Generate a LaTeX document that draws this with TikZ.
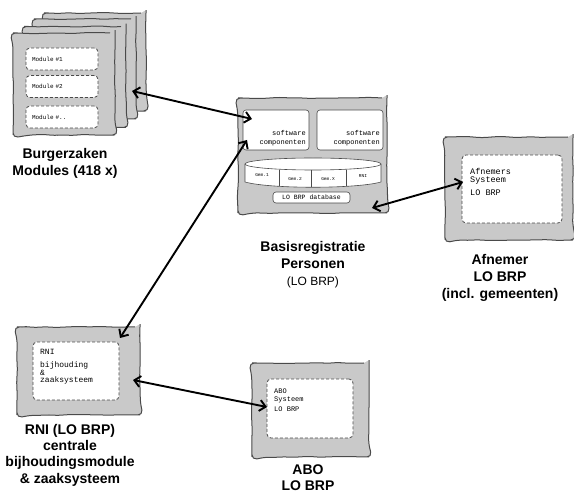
\documentclass[tikz,border=0pt]{standalone}
\usepackage{fontspec}
\usepackage{tikz}
\usetikzlibrary{decorations.pathmorphing}
\usetikzlibrary{arrows.meta}
\usepackage{xcolor}
\newfontfamily\labelfont{Liberation Sans}
\newfontfamily\codefont{Liberation Mono}
\definecolor{boxgray}{HTML}{C9C9C9}
\definecolor{edgegray}{HTML}{4A4A4A}

\tikzset{
  sketchbox/.style={draw=edgegray, fill=boxgray, line width=1pt, rounded corners=5pt,
    decorate, decoration={random steps, segment length=9pt, amplitude=0.6pt}},
  dashbox/.style={draw=edgegray, dash pattern=on 3pt off 2pt, fill=white, line width=0.8pt, rounded corners=4pt},
  swbox/.style={draw=edgegray, fill=white, line width=0.6pt, rounded corners=3pt},
  modbox/.style={dashbox, text width=60pt, minimum height=22pt, inner xsep=6pt, align=left,
    font=\codefont\fontsize{6}{7}\selectfont},
  code/.style={font=\codefont\fontsize{7.5}{8}\selectfont, align=left, inner sep=0pt},
  tinycode/.style={font=\codefont\fontsize{4.5}{5}\selectfont, inner sep=0pt},
  caption/.style={font=\labelfont\bfseries\fontsize{14}{17}\selectfont, align=center},
  link/.style={{Straight Barb[length=6pt,width=11pt]}-{Straight Barb[length=6pt,width=11pt]}, line width=1.9pt}
}

\begin{document}
\begin{tikzpicture}[x=1pt,y=-1pt]
\useasboundingbox (0,0) rectangle (574,494);
\pgfmathsetseed{12}

% Burgerzaken modules
\node[sketchbox, minimum width=102pt, minimum height=98pt] (bz4) at (95,62) {};
\node[sketchbox, minimum width=102pt, minimum height=100pt] (bz3) at (85,69) {};
\node[sketchbox, minimum width=102pt, minimum height=101pt] (bz2) at (75,77) {};
\node[sketchbox, minimum width=102pt, minimum height=102pt] (bz1) at (64,84) {};
\node[modbox] (mod1) at (62,59) {Module \#1};
\node[modbox] (mod2) at (62,86.5) {Module \#2};
\node[modbox] (mod3) at (62,117) {Module \#..};
\node[caption] (bzlabel) at (65,163) {Burgerzaken\\Modules (418 x)};

% BRP
\node[sketchbox, minimum width=149pt, minimum height=115pt] (brp) at (312.5,155.5) {};
\node[swbox, minimum width=66pt, minimum height=40pt] (swleft) at (276,130) {};
\node[swbox, minimum width=66pt, minimum height=40pt] (swright) at (350,130) {};
\node[code, anchor=south east, align=right, font=\codefont\fontsize{7}{9}\selectfont] (swlefttext) at (306,146) {software\\componenten};
\node[code, anchor=south east, align=right, font=\codefont\fontsize{7}{9}\selectfont] (swrighttext) at (380,146) {software\\componenten};
\draw[edgegray, fill=white, line width=0.6pt] (245,164) -- (245,182) .. controls (270,189) and (356,189) .. (381,182) -- (381,164);
\draw[edgegray, fill=white, line width=0.6pt] (313,164) ellipse [x radius=68pt, y radius=6pt];
\draw[edgegray, line width=0.6pt] (279,170) -- (279,186);
\draw[edgegray, line width=0.6pt] (311,170) -- (311,187);
\draw[edgegray, line width=0.6pt] (346,170) -- (346,186);
\node[tinycode] (gem1) at (262,175) {Gem.1};
\node[tinycode] (gem2) at (295,179) {Gem.2};
\node[tinycode] (gemx) at (328,179) {Gem.X};
\node[tinycode] (rnicell) at (363,176) {RNI};
\node[swbox, minimum width=77pt, minimum height=11pt, inner sep=1pt,
  font=\codefont\fontsize{6.5}{7}\selectfont] (db) at (311.5,197.5) {LO BRP database};
\node[caption] (brplabel) at (313,265) {Basisregistratie\\Personen\\{\mdseries\fontsize{12}{14}\selectfont (LO BRP)}};

% Afnemer
\node[sketchbox, minimum width=128pt, minimum height=103pt] (afn) at (509,188.5) {};
\node[dashbox, minimum width=100pt, minimum height=68pt] (afninner) at (512,189) {};
\node[code, anchor=north west, font=\codefont\fontsize{8.5}{8}\selectfont] (afntext) at (470,168) {Afnemers\\Systeem\\[5pt]LO BRP};
\node[caption] (afnlabel) at (500,278) {Afnemer\\LO BRP\\(incl. gemeenten)};

% RNI
\node[sketchbox, minimum width=123pt, minimum height=88pt] (rni) at (78.5,371) {};
\node[dashbox, minimum width=86pt, minimum height=58pt] (rniinner) at (76,371) {};
\node[code, anchor=north west, font=\codefont\fontsize{8}{6.5}\selectfont] (rnitext) at (40,349) {RNI\\[7pt]bijhouding\\\&\\zaaksysteem};
\node[caption, font=\labelfont\bfseries\fontsize{14}{16.3}\selectfont] (rnilabel) at (70,455) {RNI (LO BRP)\\centrale\\bijhoudingsmodule\\\& zaaksysteem};

% ABO
\node[sketchbox, minimum width=117pt, minimum height=94pt] (abo) at (310.5,410) {};
\node[dashbox, minimum width=86pt, minimum height=59pt] (aboinner) at (310,408.5) {};
\node[code, anchor=north west, font=\codefont\fontsize{7}{7.5}\selectfont] (abotext) at (274,389) {ABO\\Systeem\\[3pt]LO BRP};
\node[caption, font=\labelfont\bfseries\fontsize{14}{15.5}\selectfont] (abolabel) at (308,477.5) {ABO\\LO BRP};

% verbindingen
\coordinate (bz-brp) at (132,91);
\coordinate (brp-bz) at (252,119);
\coordinate (rni-brp) at (120,338);
\coordinate (brp-rni) at (247,140);
\coordinate (brp-afn) at (372,208);
\coordinate (afn-brp) at (463,182);
\coordinate (rni-abo) at (133,380);
\coordinate (abo-rni) at (267,407);
\draw[link] (bz-brp) -- (brp-bz);
\draw[link] (rni-brp) -- (brp-rni);
\draw[link] (brp-afn) -- (afn-brp);
\draw[link] (rni-abo) -- (abo-rni);
\end{tikzpicture}
\end{document}
